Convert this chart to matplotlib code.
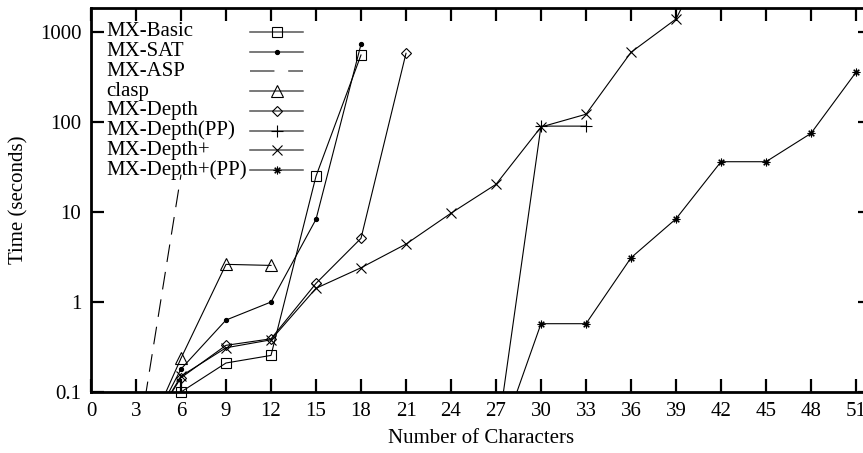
import matplotlib
matplotlib.use('Agg')
import matplotlib.pyplot as plt
from matplotlib.lines import Line2D
import numpy as np

plt.rcParams['font.family'] = ['Liberation Serif', 'DejaVu Serif']
plt.rcParams['font.size'] = 15

# Data (Time in seconds vs number of characters)
basic_x = [3, 6, 9, 12, 15, 18]
basic_y = [0.02, 0.1, 0.21, 0.255, 25, 555]
sat_x = [3, 6, 9, 12, 15, 18]
sat_y = [0.02, 0.18, 0.63, 1.0, 8.3, 730]
asp_x = [3, 6]
asp_y = [0.02, 26]
clasp_x = [3, 6, 9, 12]
clasp_y = [0.018, 0.237, 2.62, 2.55]
depth_x = [3, 6, 9, 12, 15, 18, 21]
depth_y = [0.023, 0.144, 0.33, 0.39, 1.61, 5.1, 580]
depth_pp_x = [27, 30, 33]
depth_pp_y = [0.026, 90, 90]
depthplus_x = [3, 6, 9, 12, 15, 18, 21, 24, 27, 30, 33, 36, 39, 42]
depthplus_y = [0.022, 0.15, 0.31, 0.38, 1.42, 2.4, 4.4, 9.7, 20.3, 88, 122, 595, 1394, 14000]
depthplus_pp_x = [27, 30, 33, 36, 39, 42, 45, 48, 51]
depthplus_pp_y = [0.022, 0.574, 0.574, 3.1, 8.4, 36.2, 36.2, 74.8, 357]

labels = ['MX-Basic', 'MX-SAT', 'MX-ASP', 'clasp', 'MX-Depth',
          'MX-Depth(PP)', 'MX-Depth+', 'MX-Depth+(PP)']
series = [(basic_x, basic_y), (sat_x, sat_y), (asp_x, asp_y), (clasp_x, clasp_y),
          (depth_x, depth_y), (depth_pp_x, depth_pp_y), (depthplus_x, depthplus_y),
          (depthplus_pp_x, depthplus_pp_y)]
styles = [
    dict(marker='s', ms=7, mfc='none', ls='-'),
    dict(marker='o', ms=3, mfc='black', ls='-'),
    dict(marker='None', ls=(0, (16, 9))),
    dict(marker='^', ms=8, mfc='none', ls='-'),
    dict(marker='D', ms=5.5, mfc='none', ls='-'),
    dict(marker='+', ms=9, ls='-'),
    dict(marker='x', ms=6.5, ls='-'),
    dict(marker=(8, 2, 0), ms=5.5, ls='-'),
]

ymin, ymax = 0.1, 1848
xmin, xmax = 0, 52

fig = plt.figure(figsize=(8.63, 4.53), dpi=100)
ax = fig.add_axes([91/863, 1 - 392/453, 780/863, 384/453])

for (xs, ys), st in zip(series, styles):
    xs = np.array(xs, dtype=float)
    ys = np.array(ys, dtype=float)
    ax.plot(xs, ys, color='black', lw=0.8, ls=st['ls'], zorder=2)
    if st['marker'] != 'None':
        m = (ys >= ymin) & (ys <= ymax)
        ax.plot(xs[m], ys[m], ls='none', color='black', marker=st['marker'],
                ms=st['ms'], mfc=st.get('mfc', 'black'), mec='black', mew=0.8,
                clip_on=False, zorder=3)

ax.set_yscale('log')
ax.set_xlim(xmin, xmax)
ax.set_ylim(ymin, ymax)
ax.set_xticks(range(0, 52, 3))
ax.set_yticks([0.1, 1, 10, 100, 1000])
ax.set_yticklabels(['0.1', '1', '10', '100', '1000'])
ax.yaxis.set_minor_locator(matplotlib.ticker.NullLocator())
ax.tick_params(which='major', direction='in', length=9.5, width=1.6,
               top=True, right=True, pad=7, labelsize=15)
for sp in ax.spines.values():
    sp.set_linewidth(2)

ax.set_xlabel('Number of Characters', labelpad=6)
ax.set_ylabel('Time (seconds)', labelpad=8)

# key: left-justified text, sample on the right (gnuplot "Left reverse")
tx = (106 - 91) / 780
lx0 = (250 - 91) / 780
lx1 = (303 - 91) / 780
for i, (lab, st) in enumerate(zip(labels, styles)):
    yy = (392 - 32 - i * 19.7) / 384
    ax.text(tx, yy, lab, transform=ax.transAxes, ha='left', va='center', fontsize=15)
    key_ls = (0, (16, 9)) if st['marker'] == 'None' else st['ls']
    ax.add_line(Line2D([lx0, lx1], [yy, yy], transform=ax.transAxes, color='#555555',
                       lw=1.1, ls=key_ls))
    if st['marker'] != 'None':
        ax.add_line(Line2D([(lx0 + lx1) / 2], [yy], transform=ax.transAxes, ls='none',
                           color='black', marker=st['marker'], ms=st['ms'],
                           mfc=st.get('mfc', 'black'), mec='black', mew=0.8))

fig.savefig('out.png', dpi=100)
